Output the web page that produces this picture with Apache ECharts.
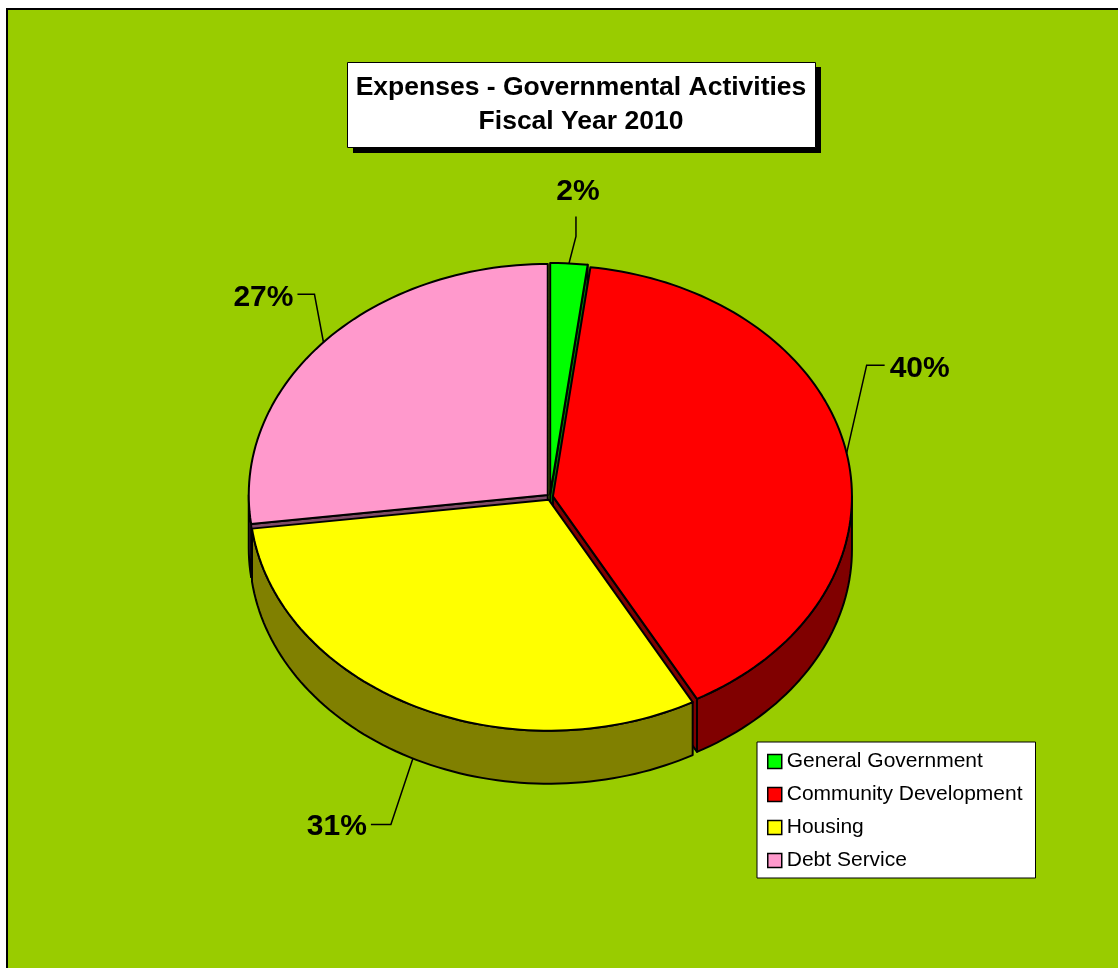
<!DOCTYPE html>
<html><head><meta charset="utf-8">
<script src="https://cdn.jsdelivr.net/npm/echarts@6/dist/echarts.min.js"></script>
<style>html,body{margin:0;padding:0;background:#fff}#c{width:1118px;height:968px}</style>
</head><body><div id="c"></div>
<script>
// ---- data ----
const categories = ['General Government', 'Community Development', 'Housing', 'Debt Service'];
const values = [2, 40, 31, 27];
const titleLines = ['Expenses - Governmental Activities', 'Fiscal Year 2010'];

// ---- style / layout ----
const topColors = ['#00FF00', '#FF0000', '#FFFF00', '#FF99CC'];
const sideColors = ['#008000', '#800000', '#808000', '#804C66'];
const FONT = '"Liberation Sans", Arial, sans-serif';
const PIE = {cx: 550, cy: 497, rx: 299, ry: 231, depth: 53, explode: 3};
const LABEL_LAYOUT = [
  {d1: [7, -27], d2: [0, -20], d3: [2, -25], align: 'center'},
  {d1: [20, -88], d2: [18, 0], d3: [5, 4], align: 'left'},
  {d1: [-22, 66], d2: [-20, 0], d3: [-4, 2], align: 'right'},
  {d1: [-9, -48], d2: [-17, 0], d3: [-4, 3], align: 'right'}
];

const total = values.reduce((a, b) => a + b, 0);
function startAngle(i) { let s = 0; for (let k = 0; k < i; k++) s += values[k]; return s / total * 360; }
const rad = d => d * Math.PI / 180;

function renderSlice(params, api) {
  const i = params.seriesIndex;
  const v = api.value(0);
  const a0 = startAngle(i), a1 = a0 + v / total * 360;
  const midDeg = (a0 + a1) / 2, mid = rad(midDeg);
  const D = PIE.depth;
  const cx = PIE.cx + PIE.explode * Math.sin(mid);
  const cy = PIE.cy - PIE.explode * Math.cos(mid);
  const pt = (deg, dz) => [cx + PIE.rx * Math.sin(rad(deg)), cy - PIE.ry * Math.cos(rad(deg)) + (dz || 0)];
  const arc = (s, e, dz) => {
    const n = Math.max(2, Math.ceil((e - s) / 1.5));
    const out = [];
    for (let k = 0; k <= n; k++) out.push(pt(s + (e - s) * k / n, dz));
    return out;
  };
  const edge = {stroke: '#000', lineWidth: 2, lineJoin: 'round'};
  const children = [];
  // radial walls facing the viewer
  if (Math.sin(rad(a1)) > 1e-6) {
    const e = pt(a1);
    children.push({type: 'polygon', z2: 1, shape: {points: [[cx, cy], e, [e[0], e[1] + D], [cx, cy + D]]},
      style: Object.assign({fill: sideColors[i]}, edge)});
  }
  if (Math.sin(rad(a0)) < -1e-6) {
    const e = pt(a0);
    children.push({type: 'polygon', z2: 1, shape: {points: [[cx, cy], e, [e[0], e[1] + D], [cx, cy + D]]},
      style: Object.assign({fill: sideColors[i]}, edge)});
  }
  // outer wall (front half)
  const s = Math.max(a0, 90), e = Math.min(a1, 270);
  if (e > s) {
    const pts = arc(s, e, 0).concat(arc(s, e, D).reverse());
    children.push({type: 'polygon', z2: 2, shape: {points: pts}, style: Object.assign({fill: sideColors[i]}, edge)});
  }
  // top face
  const topPts = [[cx, cy]].concat(arc(a0, a1, 0));
  children.push({type: 'polygon', z2: 3, shape: {points: topPts}, style: Object.assign({fill: topColors[i]}, edge)});
  // label with leader line
  const L = LABEL_LAYOUT[i];
  const anchor = Math.cos(mid) < 0 ? pt(midDeg, D) : pt(midDeg);
  const p1 = [anchor[0] + L.d1[0], anchor[1] + L.d1[1]];
  const p2 = [p1[0] + L.d2[0], p1[1] + L.d2[1]];
  children.push({type: 'polyline', z2: 10, shape: {points: [anchor, p1, p2]}, style: {stroke: '#000', lineWidth: 1.5, fill: null}});
  children.push({type: 'text', z2: 10, style: {
    text: Math.round(v / total * 100) + '%', x: p2[0] + L.d3[0], y: p2[1] + L.d3[1],
    fill: '#000', font: 'bold 30px ' + FONT, align: L.align, verticalAlign: 'middle'}});
  return {type: 'group', children: children};
}

const series = categories.map((name, i) => ({
  type: 'custom', name: name, coordinateSystem: 'none', renderItem: renderSlice,
  itemStyle: {color: topColors[i]},
  data: [{name: name, value: values[i]}]
}));

const chart = echarts.init(document.getElementById('c'), null, {renderer: 'canvas'});
chart.setOption({
  animation: false,
  color: topColors,
  backgroundColor: '#fff',
  graphic: [
    {type: 'rect', z: -10, shape: {x: 7, y: 9, width: 1130, height: 980}, style: {fill: '#99CC00', stroke: '#000', lineWidth: 2}},
    {type: 'rect', shape: {x: 353, y: 67, width: 468, height: 86}, style: {fill: '#000'}},
    {type: 'rect', shape: {x: 347.5, y: 62.5, width: 468, height: 85}, style: {fill: '#fff', stroke: '#000', lineWidth: 1}},
    {type: 'text', style: {text: titleLines.join('\n'), x: 581, y: 105, align: 'center', verticalAlign: 'middle',
      font: 'bold 26.5px ' + FONT, lineHeight: 34, fill: '#000'}}
  ],
  legend: {
    orient: 'vertical', left: 757, top: 742,
    data: categories,
    icon: 'rect', itemWidth: 14, itemHeight: 14, itemGap: 12,
    backgroundColor: '#fff', borderColor: '#000', borderWidth: 1,
    padding: [9, 13, 7, 10],
    itemStyle: {borderColor: '#000', borderWidth: 1.5},
    textStyle: {fontFamily: FONT, fontSize: 21, color: '#000'},
    selectedMode: false
  },
  series: series
});
</script></body></html>
